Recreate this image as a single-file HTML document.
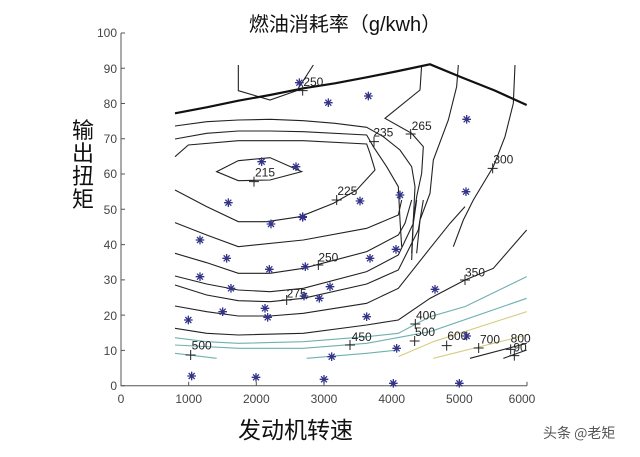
<!DOCTYPE html>
<html><head><meta charset="utf-8"><style>
html,body{margin:0;padding:0;background:#fff;width:640px;height:457px;overflow:hidden}
svg{display:block}
.t{font-family:"Liberation Sans",sans-serif;font-size:12px;fill:#444}
.c{fill:none;stroke:#222;stroke-width:1.1;vector-effect:non-scaling-stroke}
.tl{fill:none;stroke:#6fb0b0;stroke-width:1.1;vector-effect:non-scaling-stroke}
.yl{fill:none;stroke:#d8cc80;stroke-width:1.1;vector-effect:non-scaling-stroke}
.lb{font-family:"Liberation Sans",sans-serif;font-size:36px;fill:#222}
.sm{fill:none;stroke:#33338a;stroke-width:1.3;vector-effect:non-scaling-stroke}
.pm{fill:none;stroke:#222;stroke-width:1;vector-effect:non-scaling-stroke}
</style></head><body>
<svg width="640" height="457" viewBox="0 0 640 457">
<defs>
<path id="s" class="sm" d="M-13,0H13M0,-13V13M-9,-9L9,9M-9,9L9,-9"/>
<path id="p" class="pm" d="M-15,0H15M0,-15V15"/>
</defs>
<text x="345" y="31" text-anchor="middle" font-family="'Liberation Sans','Noto Sans CJK SC',sans-serif" font-size="20" fill="#111">燃油消耗率（g/kwh）</text>
<g font-family="'Noto Sans CJK SC',sans-serif" font-size="22" fill="#111" text-anchor="middle">
<text x="83" y="138">输</text><text x="83" y="161">出</text><text x="83" y="184">扭</text><text x="83" y="207">矩</text>
</g>
<text x="238" y="438" font-family="'Noto Sans CJK SC',sans-serif" font-size="23" fill="#111">发动机转速</text>
<text x="543" y="438" font-family="'Noto Sans CJK SC',sans-serif" font-size="14" fill="#555">头条 @老矩</text>
<path d="M121,33V385.7H527" stroke="#555" fill="none"/>
<g stroke="#555">
<path d="M121,385.7h4M121,350.4h4M121,315.1h4M121,279.9h4M121,244.6h4M121,209.3h4M121,174h4M121,138.8h4M121,103.5h4M121,68.2h4M121,33h4"/>
<path d="M188.7,385.7v-4M256.3,385.7v-4M324,385.7v-4M391.7,385.7v-4M459.3,385.7v-4M527,385.7v-4"/>
</g>
<g class="t" text-anchor="end">
<text x="117" y="390">0</text><text x="117" y="355">10</text><text x="117" y="320">20</text><text x="117" y="284">30</text><text x="117" y="249">40</text><text x="117" y="214">50</text><text x="117" y="178">60</text><text x="117" y="143">70</text><text x="117" y="108">80</text><text x="117" y="73">90</text><text x="117" y="37">100</text>
</g>
<g class="t" text-anchor="middle">
<text x="121" y="403">0</text><text x="188.7" y="403">1000</text><text x="256.3" y="403">2000</text><text x="324" y="403">3000</text><text x="391.7" y="403">4000</text><text x="459.3" y="403">5000</text><text x="522" y="403">6000</text>
</g>
<g transform="translate(100,20) scale(0.33333)">
<path class="c" d="M415,135V212L510,240L610,205M640,135L595,205"/>
<path class="c" d="M225,318L320,305L415,300L510,298L610,302L705,310L800,322L850,350L900,390L935,440L945,500L940,600L935,700"/>
<path class="c" d="M225,357L320,340L415,333L510,333L610,335L800,345L820,380L860,440L895,500L900,600L905,680"/>
<path class="c" d="M225,410L265,375L415,362L610,362L800,372L810,400L825,450L770,510L700,550L600,590L500,605L415,605L320,560L225,510"/>
<path class="c" d="M350,455L415,422L510,413L605,455L510,480L415,482Z"/>
<path class="c" d="M965,135L960,210L855,295L935,340L970,380L965,460L950,530L940,600L935,720"/>
<path class="c" d="M1075,135L1070,200L1045,300L1000,420L990,520L960,600L950,700"/>
<path class="c" d="M1245,135L1240,250L1215,350L1180,440L1120,540L1090,600L1060,680"/>
<path d="M225,280L320,262L415,242L510,225L610,205L705,190L800,172L895,153L990,133L1085,172L1185,212L1280,255" fill="none" stroke="#111" stroke-width="2.2" vector-effect="non-scaling-stroke"/>
<g class="lb"><text x="610" y="198">250</text><text x="820" y="350">235</text><text x="935" y="330">265</text><text x="1180" y="430">300</text><text x="465" y="470">215</text><text x="712" y="525">225</text></g>
<use href="#p" x="608" y="212"/><use href="#p" x="822" y="365"/><use href="#p" x="932" y="342"/><use href="#p" x="1178" y="445"/><use href="#p" x="462" y="485"/><use href="#p" x="710" y="540"/>
<use href="#s" x="598" y="188"/><use href="#s" x="685" y="248"/><use href="#s" x="805" y="228"/><use href="#s" x="1100" y="298"/><use href="#s" x="900" y="525"/><use href="#s" x="1098" y="515"/><use href="#s" x="385" y="548"/><use href="#s" x="485" y="425"/><use href="#s" x="588" y="440"/><use href="#s" x="780" y="543"/><use href="#s" x="608" y="590"/>
</g>
<g transform="translate(100,210) scale(0.33333)">
<path class="c" d="M225,38L320,75L415,110L610,90L800,55L895,15L905,-30"/>
<path class="c" d="M225,130L320,158L415,190L510,190L610,175L800,125L895,75L915,40L935,-30"/>
<path class="c" d="M225,198L320,222L415,240L510,245L610,235L800,185L895,135L940,40L950,-30"/>
<path class="c" d="M225,225L320,255L415,272L510,275L610,265L800,222L895,180L955,60L970,-30"/>
<path class="c" d="M225,288L320,305L415,318L510,318L610,310L800,280L895,235L990,115L1050,40L1095,-10"/>
<path class="c" d="M225,355L320,370L415,375L610,370L800,345L895,330L990,265L1095,210L1180,175L1280,60"/>
<path class="tl" d="M225,383L320,395L415,400L610,395L800,380L895,370L990,320L1095,290L1280,200"/>
<path class="tl" d="M225,405L415,415L610,415L800,400L990,365L1280,265"/>
<path class="tl" d="M225,430L350,445M620,445L800,430L895,420"/>
<path class="yl" d="M895,440L1000,395L1280,305"/>
<path class="yl" d="M1000,445L1280,375"/>
<path class="c" d="M1110,445L1280,400M1210,445L1280,420"/>
<g class="lb"><text x="655" y="155">250</text><text x="560" y="262">275</text><text x="1095" y="200">350</text><text x="275" y="418">500</text><text x="755" y="393">450</text><text x="948" y="328">400</text><text x="945" y="378">500</text><text x="1042" y="390">600</text><text x="1140" y="400">700</text><text x="1232" y="398">800</text><text x="1240" y="425">90</text></g>
<use href="#p" x="655" y="165"/><use href="#p" x="560" y="270"/><use href="#p" x="1095" y="210"/><use href="#p" x="272" y="435"/><use href="#p" x="750" y="405"/><use href="#p" x="946" y="342"/><use href="#p" x="944" y="393"/><use href="#p" x="1040" y="407"/><use href="#p" x="1136" y="414"/><use href="#p" x="1232" y="418"/><use href="#p" x="1243" y="437"/>
<use href="#s" x="513" y="42"/><use href="#s" x="608" y="22"/><use href="#s" x="300" y="90"/><use href="#s" x="380" y="145"/><use href="#s" x="300" y="200"/><use href="#s" x="393" y="235"/><use href="#s" x="508" y="178"/><use href="#s" x="616" y="170"/><use href="#s" x="690" y="230"/><use href="#s" x="810" y="145"/><use href="#s" x="888" y="118"/><use href="#s" x="265" y="330"/><use href="#s" x="368" y="305"/><use href="#s" x="495" y="295"/><use href="#s" x="503" y="322"/><use href="#s" x="658" y="265"/><use href="#s" x="612" y="258"/><use href="#s" x="800" y="320"/><use href="#s" x="1005" y="238"/><use href="#s" x="1100" y="378"/><use href="#s" x="890" y="415"/><use href="#s" x="695" y="440"/><use href="#s" x="275" y="498"/><use href="#s" x="468" y="502"/><use href="#s" x="672" y="508"/><use href="#s" x="880" y="520"/><use href="#s" x="1078" y="520"/>
</g>
</svg>
</body></html>
